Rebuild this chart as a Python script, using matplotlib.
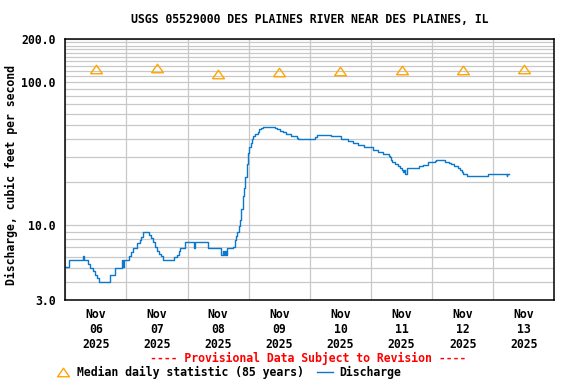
import pandas as pd
import matplotlib
matplotlib.use('Agg')
import matplotlib.pyplot as plt
import matplotlib.dates as mdates
from matplotlib.lines import Line2D
from matplotlib.ticker import FixedLocator, NullFormatter

# discharge readings: hours after 2025-11-06 00:00, cfs (step values)
hours = [0, 1.6, 6.9, 7.2, 9.0, 9.6, 11.0, 11.5, 12.6, 13.1,
         17.7, 19.6, 22.4, 22.6, 23.0, 25.1, 25.9, 26.7, 28.3, 29.3,
         29.9, 30.6, 33.0, 33.8, 34.3, 35.4, 36.1, 36.9, 37.7, 38.3,
         42.7, 43.8, 44.8, 45.1, 47.1, 50.7, 50.9, 56.1, 61.2, 61.9,
         62.3, 62.7, 63.0, 63.4, 66.0, 66.5, 67.1, 67.6, 68.1, 68.6,
         69.1, 69.7, 70.2, 70.7, 71.3, 71.8, 72.3, 72.8, 73.3, 73.8,
         74.6, 75.7, 76.2, 77.0, 77.8, 82.4, 83.0, 84.3, 85.6, 86.7,
         88.5, 90.9, 91.4, 98.2, 99.0, 104.5, 108.4, 110.8, 112.9, 115.0,
         117.3, 120.7, 122.8, 124.7, 127.0, 127.3, 127.8, 128.3, 129.4, 130.7,
         131.5, 132.0, 132.5, 132.8, 133.4, 134.3, 138.8, 140.6, 142.5, 145.3,
         145.6, 149.0, 150.8, 151.6, 152.7, 154.2, 155.0, 155.8, 156.3, 157.9,
         165.8, 173.4, 173.6, 174.2]
discharge = [5.1, 5.7, 6.1, 5.7, 5.35, 5.05, 4.78, 4.52, 4.26, 4.0,
             4.52, 5.05, 5.7, 5.1, 5.7, 6.1, 6.5, 6.9, 7.5, 7.9,
             8.3, 9.0, 8.6, 8.2, 7.6, 7.0, 6.6, 6.3, 6.05, 5.7,
             6.0, 6.2, 6.6, 6.9, 7.6, 6.9, 7.6, 6.9, 6.2, 6.6,
             6.2, 6.6, 6.2, 6.9, 7.1, 7.9, 8.4, 9.0, 9.8, 10.9,
             12.9, 15.9, 18.2, 21.6, 27, 31.8, 35.5, 37.9, 40, 42,
             43.8, 45.1, 46.8, 47.9, 48.7, 47.9, 47, 46, 44.6, 43.3,
             42, 40.9, 39.9, 41.4, 42.9, 42, 40, 38.7, 37.6, 36.5,
             35, 33.8, 32.4, 31.3, 30.4, 30, 28.8, 27.8, 27, 26,
             25, 24.3, 23.4, 24.3, 22.7, 25, 25.8, 26.5, 27.5, 28.3,
             28.8, 27.8, 27.4, 27, 25.9, 25.3, 24.3, 23.4, 22.9, 22.0,
             22.9, 22.0, 22.9, 22.9]

median_days = ['2025-11-06', '2025-11-07', '2025-11-08', '2025-11-09',
               '2025-11-10', '2025-11-11', '2025-11-12', '2025-11-13']
median_vals = [123, 125, 115, 119, 120, 121, 121, 124]

y_major = [3, 10, 100, 200]
y_minor = [4, 5, 6, 7, 8, 9, 20, 30, 40, 50, 60, 70, 80, 90,
           110, 120, 130, 140, 150, 160, 170, 180, 190]

BLUE = '#0a78cc'
ORANGE = '#ffa500'
GRID = '#c8c8c8'
FONT = dict(family='DejaVu Sans Mono', weight='bold', size=8.3)

start = pd.Timestamp('2025-11-06')
times = start + pd.to_timedelta(hours, unit='h')
med_times = pd.to_datetime(median_days) + pd.Timedelta(hours=12)

fig = plt.figure(figsize=(5.76, 3.84), dpi=100)
ax = fig.add_axes([0.1134, 0.2188, 0.849, 0.6789])

ax.plot(times, discharge, drawstyle='steps-post', color=BLUE, lw=1.0, zorder=3)
tri = [(-1, -0.72), (1, -0.72), (0, 0.72), (-1, -0.72)]
ax.plot(med_times, median_vals, linestyle='none', marker=tri, ms=8.5,
        mfc='none', mec=ORANGE, mew=1.0, zorder=4)

ax.set_yscale('log')
ax.set_ylim(3, 200)
ax.yaxis.set_major_locator(FixedLocator(y_major))
ax.yaxis.set_minor_locator(FixedLocator(y_minor))
ax.set_yticklabels([f'{v:.1f}' for v in y_major], **FONT)
ax.yaxis.set_minor_formatter(NullFormatter())

ax.set_xlim(start, start + pd.Timedelta(days=8))
ax.xaxis.set_major_locator(mdates.DayLocator())
ax.xaxis.set_major_formatter(plt.NullFormatter())
ax.xaxis.set_minor_locator(mdates.HourLocator(byhour=[12]))
ax.xaxis.set_minor_formatter(mdates.DateFormatter('%b\n%d\n%Y'))
for lab in ax.xaxis.get_minorticklabels():
    lab.set_fontfamily(FONT['family'])
    lab.set_fontweight('bold')
    lab.set_fontsize(FONT['size'])

ax.tick_params(which='both', length=0)
ax.tick_params(axis='y', which='both', pad=7)
ax.tick_params(axis='x', which='minor', pad=6)

ax.grid(True, axis='x', which='major', color=GRID, lw=0.9)
ax.grid(True, axis='y', which='both', color=GRID, lw=0.9)
ax.set_axisbelow(True)
for sp in ax.spines.values():
    sp.set_linewidth(1.1)
    sp.set_zorder(5)

fig.text(0.0205, 0.545, 'Discharge, cubic feet per second', rotation=90,
         ha='center', va='center', **FONT)
fig.text(0.537, 0.950, 'USGS 05529000 DES PLAINES RIVER NEAR DES PLAINES, IL',
         ha='center', va='center', **FONT)
fig.text(0.535, 0.066, '---- Provisional Data Subject to Revision ----',
         ha='center', va='center', color='red', **FONT)

# legend row
ly = 0.030
fig.add_artist(Line2D([0.1095], [ly + 0.002], marker=tri, ms=8.5, mfc='none',
                      mec=ORANGE, mew=1.0, transform=fig.transFigure))
fig.text(0.1345, ly, 'Median daily statistic (85 years)', ha='left', va='center', **FONT)
fig.add_artist(Line2D([0.5495, 0.5785], [ly, ly], color=BLUE, lw=1.0,
                      transform=fig.transFigure))
fig.text(0.589, ly, 'Discharge', ha='left', va='center', **FONT)

fig.savefig('out.png', dpi=100)
